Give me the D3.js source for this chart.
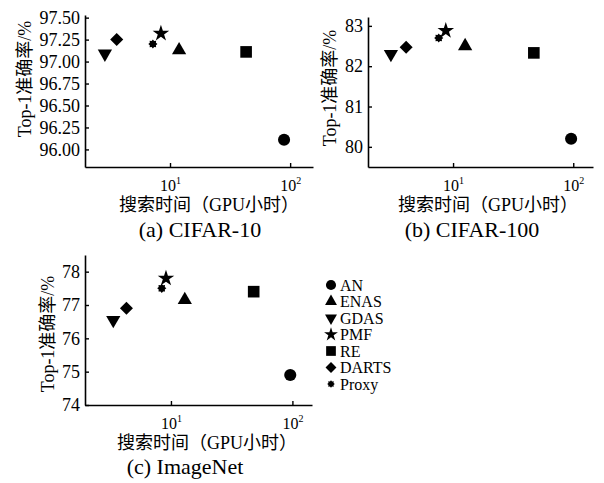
<!DOCTYPE html>
<html>
<head>
<meta charset="utf-8">
<script src="https://cdn.jsdelivr.net/npm/d3@7"></script>
<style>
  body { margin: 0; background: #fff; }
  svg text { font-family: "Liberation Serif", "Times New Roman", Tinos, "DejaVu Serif", "Noto Sans CJK SC", serif; fill: #000; }
</style>
</head>
<body>
<script>
// methods, in legend order
var methods = ["AN", "ENAS", "GDAS", "PMF", "RE", "DARTS", "Proxy"];

// search time (GPU hours) and top-1 accuracy per dataset
var cifar10Time = [89, 11.9, 2.87, 8.4, 43, 3.6, 7.2];
var cifar10Acc = [96.11, 97.13, 97.09, 97.32, 97.11, 97.25, 97.20];

var cifar100Time = [96, 12.6, 3.04, 8.7, 47, 4.07, 7.6];
var cifar100Acc = [80.2, 82.5, 82.3, 82.88, 82.33, 82.47, 82.7];

var imagenetTime = [96, 13, 3.35, 9.1, 48, 4.3, 8.4];
var imagenetAcc = [74.9, 77.15, 76.55, 77.8, 77.4, 76.9, 77.5];

// tick values
var xTicks = [10, 100];
var cifar10Ticks = [96.00, 96.25, 96.50, 96.75, 97.00, 97.25, 97.50];
var cifar100Ticks = [80, 81, 82, 83];
var imagenetTicks = [74, 75, 76, 77, 78];

var w = 604, h = 483;

var svg = d3.select("body")
    .append("svg")
    .attr("width", w)
    .attr("height", h);

//proxy marker: small 8 point star blob
var blob = {
    draw: function(ctx, size){
        var r = Math.sqrt(size / Math.PI) * 1.15, ri = r * 0.72;
        for (var i = 0; i < 16; i++) {
            var a = i * Math.PI / 8 - Math.PI / 2;
            var rr = i % 2 ? ri : r;
            if (i == 0) ctx.moveTo(rr * Math.cos(a), rr * Math.sin(a));
            else ctx.lineTo(rr * Math.cos(a), rr * Math.sin(a));
        }
        ctx.closePath();
    }
};

//shape, size and rotation per method
var shapes = [
    { type: d3.symbolCircle, size: 115, rot: 0 },
    { type: d3.symbolTriangle, size: 88, rot: 0 },
    { type: d3.symbolTriangle, size: 88, rot: 180 },
    { type: d3.symbolStar, size: 85, rot: 0 },
    { type: d3.symbolSquare, size: 135, rot: 0 },
    { type: d3.symbolSquare, size: 85, rot: 45 },
    { type: blob, size: 50, rot: 0 }
];

function drawPanel(opt){
    var x = d3.scaleLog().domain(opt.xDomain).range(opt.xRange);
    var y = d3.scaleLinear().domain(opt.yDomain).range(opt.yRange);

    var g = svg.append("g").attr("class", "panel");

    //x axis, ticks pointing inward
    var xAxis = g.append("g")
        .attr("transform", "translate(0," + opt.yRange[0] + ")")
        .call(d3.axisBottom(x).tickValues(xTicks).tickSizeInner(-4).tickSizeOuter(0)
            .tickPadding(10).tickFormat(function(){ return ""; }));
    xAxis.attr("font-family", null);
    xAxis.selectAll(".tick text").each(function(d){
        var t = d3.select(this)
            .attr("font-size", 16)
            .attr("dy", "0.9em");
        t.append("tspan").text("10");
        t.append("tspan").attr("font-size", 10).attr("dy", "-0.7em")
            .text(Math.round(Math.log10(d)));
    });

    //y axis
    var yAxis = g.append("g")
        .attr("transform", "translate(" + opt.xRange[0] + ",0)")
        .call(d3.axisLeft(y).tickValues(opt.yTicks).tickSizeInner(-4).tickSizeOuter(0)
            .tickPadding(5).tickFormat(d3.format(opt.yFormat)));
    yAxis.attr("font-family", null);
    yAxis.selectAll(".tick text").attr("font-size", 18);

    g.selectAll(".domain").attr("stroke-width", 1.6);
    g.selectAll(".tick line").attr("stroke-width", 1.4);

    //points
    g.selectAll(".pt")
        .data(methods)
        .enter()
        .append("path")
        .attr("class", "pt")
        .attr("d", function(d, i){ return d3.symbol().type(shapes[i].type).size(shapes[i].size)(); })
        .attr("transform", function(d, i){
            return "translate(" + x(opt.time[i]) + "," + y(opt.acc[i]) + ") rotate(" + shapes[i].rot + ")";
        })
        .attr("fill", "#000");

    //axis titles
    g.append("text")
        .attr("text-anchor", "middle")
        .attr("font-size", 18)
        .attr("transform", "translate(" + opt.yLabelPos[0] + "," + opt.yLabelPos[1] + ") rotate(-90)")
        .text("Top-1准确率/%");

    g.append("text")
        .attr("text-anchor", "middle")
        .attr("font-size", 18)
        .attr("x", opt.xLabelPos[0])
        .attr("y", opt.xLabelPos[1])
        .text("搜索时间（GPU小时）");

    g.append("text")
        .attr("text-anchor", "middle")
        .attr("font-size", 22)
        .attr("x", opt.captionPos[0])
        .attr("y", opt.captionPos[1])
        .text(opt.caption);
}

drawPanel({
    time: cifar10Time, acc: cifar10Acc,
    xDomain: [1.96, 155], xRange: [85, 313],
    yDomain: [95.8, 97.53], yRange: [167, 15],
    yTicks: cifar10Ticks, yFormat: ".2f",
    yLabelPos: [31, 79], xLabelPos: [209, 211], captionPos: [200, 237],
    caption: "(a) CIFAR-10"
});

drawPanel({
    time: cifar100Time, acc: cifar100Acc,
    xDomain: [1.96, 146], xRange: [368, 593],
    yDomain: [79.5, 83.22], yRange: [167, 17],
    yTicks: cifar100Ticks, yFormat: "d",
    yLabelPos: [336, 88], xLabelPos: [488, 211], captionPos: [472, 237],
    caption: "(b) CIFAR-100"
});

drawPanel({
    time: imagenetTime, acc: imagenetAcc,
    xDomain: [1.96, 145], xRange: [85, 312],
    yDomain: [74, 78.5], yRange: [405, 255],
    yTicks: imagenetTicks, yFormat: "d",
    yLabelPos: [54, 334], xLabelPos: [207, 449], captionPos: [185, 474],
    caption: "(c) ImageNet"
});

//legend
var legend = svg.append("g")
    .attr("class", "legend")
    .attr("transform", "translate(331,285)");

var rows = legend.selectAll(".row")
    .data(methods)
    .enter()
    .append("g")
    .attr("class", "row")
    .attr("transform", function(d, i){ return "translate(0," + (i * 16.5) + ")"; });

rows.append("path")
    .attr("d", function(d, i){ return d3.symbol().type(shapes[i].type).size(shapes[i].size * 0.7)(); })
    .attr("transform", function(d, i){ return "rotate(" + shapes[i].rot + ")"; })
    .attr("fill", "#000");

rows.append("text")
    .attr("x", 9)
    .attr("dy", "0.35em")
    .attr("font-size", 16)
    .text(function(d){ return d; });
</script>
</body>
</html>
